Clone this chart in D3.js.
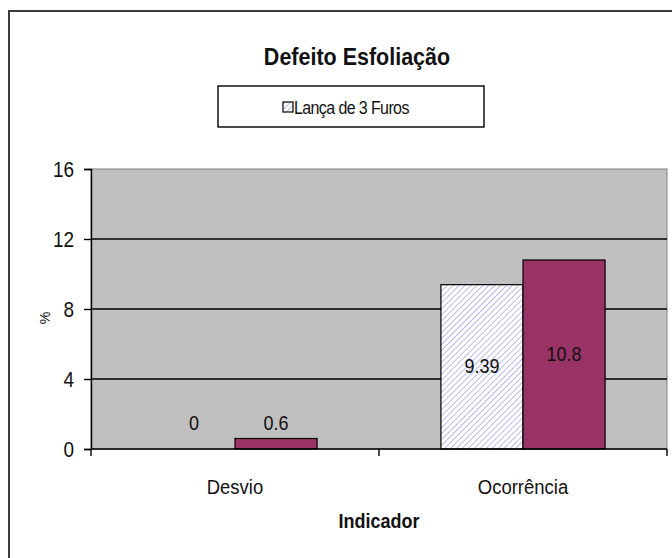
<!DOCTYPE html>
<html>
<head>
<meta charset="utf-8">
<script src="https://cdn.jsdelivr.net/npm/d3@7"></script>
<style>
  html, body { margin: 0; padding: 0; background: #fff; }
  svg { display: block; font-family: "Liberation Sans", Arial, sans-serif; }
</style>
</head>
<body>
<svg id="chart" width="672" height="558"></svg>
<script>
// Indicators on the x axis
const categories = ["Desvio", "Ocorrência"];
// Series: hatched (legend entry) and maroon
const seriesNames = ["Lança de 3 Furos", ""];
const seriesHatched = [0, 9.39];
const seriesMaroon = [0.6, 10.8];
const yTicks = [0, 4, 8, 12, 16];

const svg = d3.select("#chart");
const plot = { left: 91, top: 169, right: 667, bottom: 449 };
const STRETCH = 1.12; // slightly tall lettering

// text placed at (x, y) and stretched vertically around its baseline
function label(parent, x, y, txt, opts) {
  const g = parent.append("g")
    .attr("transform", `translate(${x},${y}) scale(1,${STRETCH})`);
  const t = g.append("text")
    .attr("x", 0).attr("y", 0)
    .attr("text-anchor", opts.anchor || "middle")
    .attr("font-size", opts.size)
    .attr("font-weight", opts.weight || "normal")
    .attr("fill", "#111")
    .text(txt);
  if (opts.dy) t.attr("dy", opts.dy);
  if (opts.ls) t.attr("letter-spacing", opts.ls);
  return t;
}

// hatch pattern for the first series
const defs = svg.append("defs");
const pat = defs.append("pattern")
  .attr("id", "hatch")
  .attr("patternUnits", "userSpaceOnUse")
  .attr("width", 4.2).attr("height", 4.2)
  .attr("patternTransform", "rotate(45)");
pat.append("rect").attr("width", 4.2).attr("height", 4.2).attr("fill", "#ffffff");
pat.append("line").attr("x1", 0).attr("y1", 0).attr("x2", 0).attr("y2", 4.2)
  .attr("stroke", "#8f8fe0").attr("stroke-width", 1.2);

// chart area frame
svg.append("rect")
  .attr("x", 9).attr("y", 11).attr("width", 720).attr("height", 620)
  .attr("fill", "#ffffff").attr("stroke", "#3a3a3a").attr("stroke-width", 2);

const x0 = d3.scaleBand().domain(categories)
  .range([plot.left, plot.right]).paddingInner(0.43).paddingOuter(0.215);
const x1 = d3.scaleBand().domain([0, 1]).range([0, x0.bandwidth()]);
const y = d3.scaleLinear().domain([0, 16]).range([plot.bottom, plot.top]);

// plot area
svg.append("rect")
  .attr("x", plot.left).attr("y", plot.top)
  .attr("width", plot.right - plot.left).attr("height", plot.bottom - plot.top)
  .attr("fill", "#c0c0c0").attr("stroke", "#808080").attr("stroke-width", 1);

// horizontal gridlines
svg.append("g").selectAll("line")
  .data(yTicks.filter(t => t > 0 && t < 16))
  .join("line")
  .attr("x1", plot.left).attr("x2", plot.right)
  .attr("y1", d => y(d)).attr("y2", d => y(d))
  .attr("stroke", "#000").attr("stroke-width", 1.4);

// bars
const rows = categories.map((c, i) => ({ c, vals: [seriesHatched[i], seriesMaroon[i]] }));
const fills = ["url(#hatch)", "#993366"];
const groups = svg.append("g").selectAll("g")
  .data(rows).join("g")
  .attr("transform", d => `translate(${x0(d.c)},0)`);

groups.selectAll("rect")
  .data(d => d.vals.map((v, k) => ({ v, k })))
  .join("rect")
  .attr("x", d => x1(d.k))
  .attr("width", x1.bandwidth())
  .attr("y", d => y(d.v))
  .attr("height", d => y(0) - y(d.v))
  .attr("fill", d => fills[d.k])
  .attr("stroke", "#000").attr("stroke-width", 1.2);

// value labels: centred in tall bars, lifted above the axis for short ones
groups.each(function (d) {
  const g = d3.select(this);
  d.vals.forEach((v, k) => {
    const cy = Math.min((y(v) + y(0)) / 2, y(0) - 26);
    label(g, x1(k) + x1.bandwidth() / 2, cy + 6.5, String(v), { size: 18 });
  });
});

// y axis
const yAxis = d3.axisLeft(y).tickValues(yTicks).tickSize(7).tickFormat("");
const gy = svg.append("g").attr("transform", `translate(${plot.left},0)`).call(yAxis);
gy.select(".domain").attr("stroke", "#000").attr("stroke-width", 1.4);
gy.selectAll(".tick line").attr("stroke", "#000").attr("stroke-width", 1.4);
yTicks.forEach(t => label(svg, plot.left - 17, y(t) + 7.5, String(t), { size: 19, anchor: "end" }));

// x axis line and category boundary ticks
svg.append("line")
  .attr("x1", plot.left).attr("x2", plot.right)
  .attr("y1", y(0)).attr("y2", y(0))
  .attr("stroke", "#000").attr("stroke-width", 1.4);
const step = x0.step();
svg.append("g").selectAll("line")
  .data(d3.range(categories.length + 1))
  .join("line")
  .attr("x1", i => plot.left + i * step).attr("x2", i => plot.left + i * step)
  .attr("y1", y(0)).attr("y2", y(0) + 7)
  .attr("stroke", "#000").attr("stroke-width", 1.4);

// category labels
categories.forEach(c => label(svg, x0(c) + x0.bandwidth() / 2, 494, c, { size: 18.5 }));

// axis titles
label(svg, (plot.left + plot.right) / 2, 528, "Indicador", { size: 18, weight: "bold" });

svg.append("text")
  .attr("transform", "translate(50,318) rotate(-90)")
  .attr("text-anchor", "middle")
  .attr("font-size", 14).attr("fill", "#111")
  .text("%");

// title
label(svg, 357, 65, "Defeito Esfoliação", { size: 21.5, weight: "bold" });

// legend
const lg = svg.append("g");
lg.append("rect")
  .attr("x", 218).attr("y", 86).attr("width", 266).attr("height", 41)
  .attr("fill", "#fff").attr("stroke", "#000").attr("stroke-width", 1.4);
lg.append("rect")
  .attr("x", 283).attr("y", 102).attr("width", 10).attr("height", 10)
  .attr("fill", "url(#hatch)").attr("stroke", "#000").attr("stroke-width", 1.2);
label(lg, 294, 113.5, seriesNames[0], { size: 16, anchor: "start", ls: "-0.6" });
</script>
</body>
</html>
